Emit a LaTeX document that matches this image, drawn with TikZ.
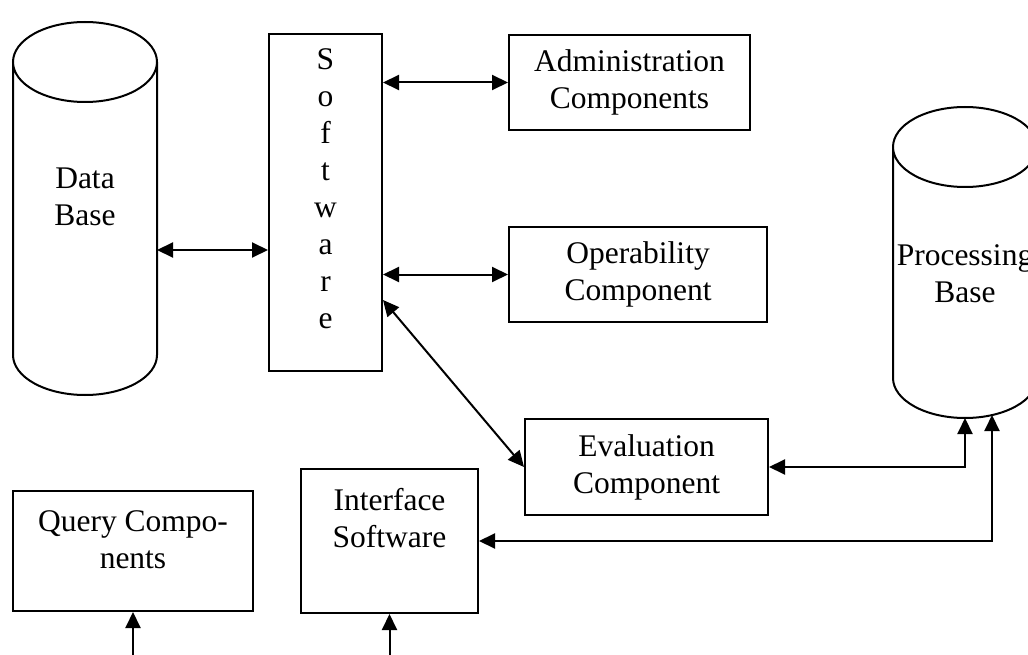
\documentclass[tikz,border=0pt]{standalone}
\usepackage{fontspec}
\setmainfont{Liberation Serif}
\usetikzlibrary{arrows.meta,calc}

\begin{document}
\begin{tikzpicture}[x=1pt,y=-1pt,
  every node/.style={font=\fontsize{31.5}{37}\selectfont, align=center, line width=2pt},
  block/.style={draw, rectangle, inner sep=0pt},
  store/.style={rectangle, inner sep=0pt, outer sep=0pt, minimum width=144pt},
  both/.style={line width=2pt, {Triangle[length=16pt,width=15pt]}-{Triangle[length=16pt,width=15pt]}},
  feed/.style={line width=2pt, -{Triangle[length=16pt,width=15pt]}}]
  \useasboundingbox (0,0) rectangle (1028,655);
  \node[store, minimum height=293pt, text depth=23pt] (db) at (85,208.5) {Data\\Base};
  \node[store, minimum height=231pt, text height=80pt] (pb) at (965,262.5) {Processing\\Base};
  \foreach \c in {db,pb}
    \draw[line width=2pt] (\c.north) ellipse [x radius=72pt, y radius=40pt]
      (\c.north west) -- (\c.south west) arc [start angle=180, end angle=360, x radius=72pt, y radius=40pt] -- (\c.north east);
  \node[block, minimum width=113pt, minimum height=337pt, text depth=27.3pt] (sw) at (325.5,202.5) {S\\o\\f\\t\\w\\a\\r\\e};
  \node[block, minimum width=241pt, minimum height=95pt] (adm) at (629.5,82.5) {Administration\\Components};
  \node[block, minimum width=258pt, minimum height=95pt] (opr) at (638,274.5) {Operability\\Component};
  \node[block, minimum width=243pt, minimum height=96pt] (eval) at (646.5,467) {Evaluation\\Component};
  \node[block, minimum width=177pt, minimum height=144pt, text depth=46.5pt] (intf) at (389.5,541) {Interface\\Software};
  \node[block, minimum width=240pt, minimum height=120pt, text depth=22.3pt] (query) at (133,551) {Query Compo-\\nents};
  \coordinate (floor) at (0,655);
  \coordinate (pbin) at ([xshift=27pt,yshift=-37pt]pb.south);

  \draw[both] ([yshift=-47.5pt]sw.west) -- ([yshift=-47.5pt]sw.west -| db.east);
  \draw[both] (adm.west) -- (adm.west -| sw.east);
  \draw[both] (opr.west) -- (opr.west -| sw.east);
  \draw[both] ([yshift=-97.5pt]sw.east) -- (eval.west);
  \draw[both] (eval.east) -| ([yshift=-40pt]pb.south);
  \draw[both] (intf.east) -| (pbin);
  \draw[feed] (query.south |- floor) -- (query.south);
  \draw[feed] (intf.south |- floor) -- (intf.south);
\end{tikzpicture}
\end{document}
